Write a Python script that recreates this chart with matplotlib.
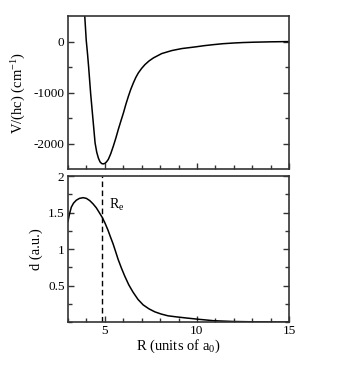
import numpy as np
import matplotlib
matplotlib.use('Agg')
import matplotlib.pyplot as plt
from matplotlib.ticker import MultipleLocator

plt.rcParams['font.family'] = 'Liberation Serif'
plt.rcParams['mathtext.fontset'] = 'custom'
plt.rcParams['mathtext.rm'] = 'Liberation Serif'
plt.rcParams['mathtext.it'] = 'Liberation Serif'
plt.rcParams['axes.unicode_minus'] = False

# potential curve
R_pot = [3.87, 3.91, 3.99, 4.06, 4.12, 4.23, 4.36, 4.47, 4.56, 4.65, 4.74, 4.83, 4.92,
         5.02, 5.10, 5.19, 5.32, 5.46, 5.60, 5.73, 5.87, 6.01, 6.14, 6.28, 6.41, 6.55,
         6.68, 6.82, 7.00, 7.18, 7.40, 7.64, 8.09, 8.64, 9.18, 9.90, 10.4, 10.9, 11.4,
         12.0, 12.5, 13.1, 14.0, 15.0]
V_pot = [700, 500, 25, -240, -497, -1020, -1543, -1987, -2170, -2285, -2360, -2393, -2399,
         -2385, -2355, -2310, -2200, -2052, -1890, -1725, -1560, -1399, -1233, -1072, -935,
         -810, -705, -614, -525, -451, -380, -320, -235, -176, -137, -105, -80, -60, -42,
         -28, -19, -12, -5, 0]

# dipole curve
R_d = [3.0, 3.08, 3.18, 3.30, 3.45, 3.62, 3.82, 4.00, 4.18, 4.36, 4.54, 4.70, 4.87, 5.02,
       5.17, 5.30, 5.45, 5.58, 5.72, 5.90, 6.08, 6.30, 6.53, 6.80, 7.08, 7.40, 7.71, 8.05,
       8.43, 8.90, 9.43, 9.99, 10.9, 12.0, 13.0, 14.5, 15.0]
d_vals = [1.38, 1.48, 1.575, 1.63, 1.67, 1.695, 1.705, 1.695, 1.665, 1.62, 1.565, 1.50, 1.43,
          1.35, 1.26, 1.17, 1.07, 0.97, 0.86, 0.74, 0.63, 0.51, 0.41, 0.31, 0.235, 0.18,
          0.14, 0.11, 0.085, 0.07, 0.055, 0.04, 0.018, 0.007, 0.003, 0.0, 0.0]

R_e = 4.87

fig = plt.figure(figsize=(3.4, 3.74), dpi=100)
ax1 = fig.add_axes([0.2, 0.548, 0.65, 0.409])
ax2 = fig.add_axes([0.2, 0.139, 0.65, 0.390])

for ax in (ax1, ax2):
    ax.set_xlim(3, 15)
    ax.xaxis.set_major_locator(MultipleLocator(5))
    ax.xaxis.set_minor_locator(MultipleLocator(1))
    ax.tick_params(which='both', direction='in', left=True, right=True, bottom=True, top=False,
                   labelsize=9.5, width=1.0, color='#333333', pad=2.5)
    ax.tick_params(which='major', length=4.5)
    ax.tick_params(which='minor', length=3)
    for s in ax.spines.values():
        s.set_linewidth(1.2)
        s.set_color('#333333')

ax1.plot(R_pot, V_pot, color='black', lw=1.1)
ax1.set_ylim(-2500, 500)
ax1.set_yticks([-2000, -1000, 0])
ax1.set_yticks([-1500, -500], minor=True)
ax1.set_xticklabels([])
ax1.set_ylabel('V/(hc) (cm$^{-1}$)', fontsize=10.5)
ax1.yaxis.set_label_coords(-0.18, 0.5)

ax2.plot(R_d, d_vals, color='black', lw=1.1)
ax2.axvline(R_e, color='black', lw=1.0, ls=(0, (4, 2.5)))
ax2.text(5.2, 1.6, 'R$_{e}$', fontsize=10, va='center')
ax2.set_ylim(0, 2)
ax2.set_yticks([0.5, 1, 1.5, 2])
ax2.set_yticklabels(['0.5', '1', '1.5', '2'])
ax2.yaxis.set_minor_locator(MultipleLocator(0.25))
ax2.set_xticks([5, 10, 15])
ax2.set_xticklabels(['5', '10', '15'])
ax2.set_ylabel('d (a.u.)', fontsize=10.5)
ax2.yaxis.set_label_coords(-0.113, 0.5)
ax2.set_xlabel('R (units of a$_0$)', fontsize=10.5, labelpad=0)

fig.savefig('out.png', dpi=100)
